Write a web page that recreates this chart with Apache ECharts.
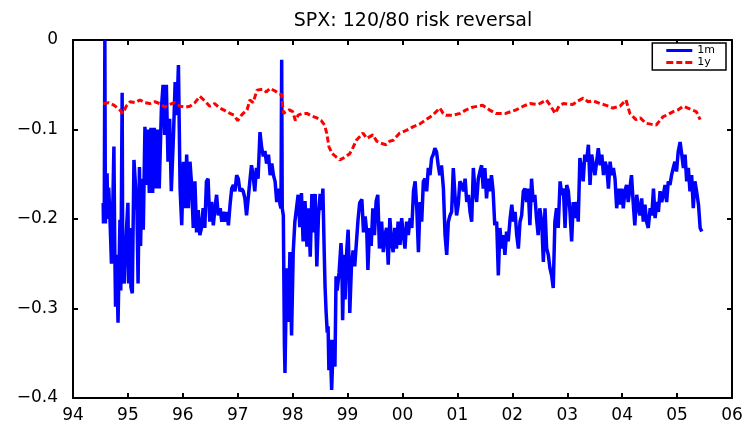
<!DOCTYPE html>
<html>
<head>
<meta charset="utf-8">
<script src="https://cdn.jsdelivr.net/npm/echarts@6/dist/echarts.min.js"></script>
<style>
  html, body { margin: 0; padding: 0; background: #fff; }
  #chart { width: 746px; height: 425px; }
</style>
</head>
<body>
<div id="chart"></div>
<script>
// SPX 120/80 risk reversal: [year (94 = 1994, 100 = 2000), value]
const TITLE = "SPX: 120/80 risk reversal";
const SERIES_NAMES = ["1m", "1y"];
const X_TICKS = [94, 95, 96, 97, 98, 99, 100, 101, 102, 103, 104, 105, 106];
const Y_TICKS = [0, -0.1, -0.2, -0.3, -0.4];

const rr1m = [
  [94.55,-0.182],[94.555,-0.205],[94.57,-0.185],[94.58,0],[94.59,-0.205],[94.605,-0.160],[94.62,-0.149],
  [94.635,-0.200],[94.65,-0.165],[94.665,-0.186],[94.68,-0.212],[94.70,-0.250],[94.72,-0.200],[94.745,-0.119],
  [94.76,-0.230],[94.775,-0.298],[94.79,-0.240],[94.80,-0.260],[94.82,-0.316],[94.84,-0.250],[94.855,-0.201],
  [94.87,-0.280],[94.895,-0.059],[94.905,-0.240],[94.92,-0.265],[94.935,-0.272],[94.96,-0.230],[94.975,-0.210],
  [95.00,-0.182],[95.015,-0.272],[95.04,-0.210],[95.055,-0.276],[95.08,-0.283],[95.11,-0.134],[95.14,-0.132],
  [95.165,-0.190],[95.185,-0.272],[95.21,-0.142],[95.23,-0.230],[95.255,-0.155],[95.28,-0.212],[95.31,-0.097],
  [95.335,-0.162],[95.36,-0.100],[95.39,-0.171],[95.42,-0.098],[95.45,-0.171],[95.48,-0.098],[95.51,-0.166],
  [95.54,-0.100],[95.57,-0.166],[95.61,-0.076],[95.64,-0.050],[95.67,-0.106],[95.70,-0.050],[95.73,-0.136],
  [95.76,-0.088],[95.79,-0.169],[95.83,-0.106],[95.86,-0.047],[95.89,-0.084],[95.92,-0.028],[95.95,-0.166],
  [95.98,-0.207],[96.01,-0.136],[96.04,-0.188],[96.07,-0.128],[96.10,-0.188],[96.13,-0.136],[96.16,-0.162],
  [96.19,-0.210],
  [96.22,-0.158],[96.25,-0.215],[96.28,-0.190],[96.31,-0.218],[96.34,-0.210],[96.37,-0.188],[96.40,-0.210],
  [96.43,-0.158],[96.46,-0.155],[96.49,-0.203],[96.525,-0.181],[96.555,-0.207],[96.585,-0.188],[96.615,-0.173],
  [96.645,-0.196],[96.68,-0.188],[96.71,-0.203],[96.74,-0.192],[96.77,-0.203],[96.80,-0.192],[96.83,-0.207],
  [96.86,-0.184],[96.89,-0.166],[96.92,-0.162],[96.95,-0.169],[96.98,-0.151],[97.01,-0.155],[97.04,-0.169],
  [97.07,-0.166],[97.10,-0.169],[97.13,-0.177],[97.16,-0.196],[97.19,-0.196],[97.22,-0.158],[97.25,-0.140],
  [97.28,-0.151],[97.31,-0.169],[97.34,-0.143],[97.37,-0.155],[97.405,-0.103],[97.435,-0.120],[97.465,-0.130],
  [97.495,-0.124],[97.525,-0.138],[97.56,-0.128],[97.59,-0.151],[97.62,-0.138],[97.65,-0.151],[97.68,-0.158],
  [97.71,-0.181],[97.74,-0.166],[97.77,-0.184],[97.787,-0.188],[97.80,-0.022],[97.81,-0.188],[97.83,-0.196],
  [97.85,-0.341],[97.86,-0.372],[97.89,-0.255],[97.92,-0.315],
  [97.95,-0.237],[97.98,-0.330],[98.01,-0.237],[98.04,-0.203],[98.07,-0.203],[98.10,-0.173],[98.13,-0.209],
  [98.16,-0.171],[98.19,-0.225],[98.225,-0.180],[98.26,-0.231],[98.29,-0.188],[98.32,-0.242],[98.35,-0.172],
  [98.375,-0.215],[98.41,-0.172],[98.44,-0.253],[98.47,-0.196],[98.50,-0.172],[98.53,-0.190],[98.55,-0.166],
  [98.575,-0.238],[98.59,-0.276],[98.61,-0.305],[98.63,-0.327],[98.645,-0.320],[98.66,-0.369],[98.68,-0.335],
  [98.71,-0.391],[98.74,-0.335],[98.77,-0.365],[98.79,-0.264],[98.81,-0.280],[98.845,-0.260],[98.88,-0.227],
  [98.895,-0.245],[98.91,-0.313],[98.935,-0.240],[98.955,-0.290],[98.985,-0.235],[99.01,-0.212],[99.025,-0.245],
  [99.04,-0.305],[99.07,-0.253],[99.10,-0.235],[99.13,-0.253],[99.16,-0.227],[99.19,-0.201],[99.22,-0.182],
  [99.26,-0.178],[99.29,-0.215],[99.32,-0.197],[99.35,-0.215],[99.37,-0.257],[99.40,-0.210],[99.43,-0.230],
  [99.46,-0.188],[99.49,-0.218],[99.52,-0.180],[99.55,-0.173],[99.58,-0.233],[99.62,-0.203],[99.65,-0.237],
  [99.68,-0.218],[99.71,-0.210],[99.74,-0.251],[99.77,-0.199],[99.80,-0.225],[99.83,-0.237],[99.86,-0.210],
  [99.89,-0.233],[99.92,-0.203],[99.955,-0.229],[99.985,-0.199],[100.015,-0.218],[100.045,-0.233],[100.075,-0.203],
  [100.105,-0.218],[100.14,-0.199],[100.17,-0.210],[100.20,-0.169],[100.23,-0.158],[100.26,-0.188],[100.29,-0.237],
  [100.32,-0.181],[100.35,-0.203],[100.38,-0.158],[100.41,-0.155],[100.44,-0.169],[100.47,-0.143],[100.50,-0.151],
  [100.53,-0.132],[100.56,-0.128],[100.59,-0.121],[100.62,-0.125],[100.65,-0.140],[100.68,-0.151],[100.71,-0.140],
  [100.745,-0.166],[100.775,-0.218],[100.805,-0.240],[100.835,-0.203],[100.865,-0.196],[100.895,-0.192],
  [100.925,-0.143],[100.955,-0.173],[100.985,-0.196],[101.015,-0.184],[101.045,-0.158],[101.08,-0.162],
  [101.11,-0.169],[101.14,-0.155],[101.17,-0.181],[101.20,-0.173],[101.23,-0.192],[101.26,-0.203],[101.29,-0.143],
  [101.32,-0.169],[101.35,-0.181],[101.38,-0.155],
  [101.41,-0.147],[101.44,-0.140],[101.47,-0.166],[101.50,-0.143],[101.53,-0.177],[101.56,-0.155],[101.59,-0.169],
  [101.62,-0.151],[101.65,-0.169],[101.68,-0.207],[101.715,-0.203],[101.745,-0.263],[101.775,-0.210],
  [101.805,-0.233],[101.835,-0.218],[101.865,-0.240],[101.895,-0.214],[101.925,-0.225],[101.96,-0.199],
  [101.99,-0.184],[102.02,-0.203],[102.05,-0.192],[102.08,-0.218],[102.11,-0.233],[102.14,-0.203],[102.17,-0.196],
  [102.20,-0.169],[102.23,-0.166],[102.26,-0.181],[102.29,-0.166],[102.32,-0.207],[102.35,-0.155],[102.38,-0.181],
  [102.41,-0.173],[102.44,-0.199],[102.47,-0.218],[102.50,-0.188],[102.535,-0.203],[102.565,-0.248],
  [102.595,-0.188],[102.625,-0.233],[102.655,-0.240],[102.685,-0.255],[102.715,-0.263],[102.745,-0.277],
  [102.775,-0.203],[102.805,-0.188],[102.835,-0.210],[102.87,-0.158],[102.90,-0.173],[102.93,-0.166],
  [102.96,-0.210],[102.99,-0.162],[103.02,-0.169],[103.05,-0.192],[103.08,-0.225],[103.11,-0.181],
  [103.14,-0.199],[103.17,-0.181],[103.20,-0.203],[103.23,-0.132],[103.26,-0.143],[103.29,-0.158],[103.32,-0.128],
  [103.35,-0.136],[103.385,-0.117],[103.415,-0.162],[103.445,-0.128],[103.475,-0.140],[103.505,-0.151],
  [103.535,-0.136],[103.565,-0.121],[103.60,-0.140],[103.63,-0.128],[103.66,-0.151],[103.69,-0.136],[103.72,-0.143],
  [103.75,-0.166],[103.78,-0.136],[103.81,-0.151],[103.84,-0.143],[103.87,-0.155],[103.90,-0.188],[103.93,-0.166],
  [103.96,-0.184],[103.99,-0.166],[104.02,-0.188],[104.05,-0.169],[104.08,-0.162],[104.11,-0.181],[104.14,-0.166],
  [104.17,-0.151],[104.20,-0.181],[104.23,-0.207],[104.265,-0.173],[104.295,-0.188],[104.325,-0.196],
  [104.355,-0.177],[104.385,-0.203],[104.415,-0.184],[104.445,-0.203],[104.475,-0.210],[104.51,-0.188],
  [104.54,-0.196],[104.57,-0.166],[104.60,-0.199],[104.63,-0.181],[104.66,-0.192],[104.69,-0.169],[104.72,-0.181],
  [104.75,-0.173],[104.78,-0.162],[104.81,-0.181],[104.84,-0.158],[104.87,-0.162],[104.90,-0.151],[104.93,-0.143],
  [104.96,-0.136],[104.99,-0.147],[105.02,-0.125],[105.055,-0.114],[105.085,-0.128],[105.115,-0.143],
  [105.145,-0.128],[105.175,-0.158],[105.205,-0.143],[105.235,-0.169],[105.265,-0.151],[105.295,-0.188],
  [105.325,-0.158],[105.355,-0.169],[105.39,-0.184],[105.42,-0.210],[105.45,-0.214]
];

const rr1y = [
  [94.55,-0.071],[94.65,-0.070],[94.75,-0.073],[94.85,-0.078],[94.91,-0.082],[94.97,-0.074],[95.04,-0.069],
  [95.13,-0.070],[95.22,-0.067],[95.31,-0.070],[95.40,-0.071],[95.49,-0.069],[95.58,-0.071],[95.67,-0.075],
  [95.76,-0.072],[95.85,-0.070],[95.95,-0.074],[96.04,-0.075],[96.13,-0.074],[96.22,-0.070],[96.31,-0.063],
  [96.40,-0.068],[96.49,-0.074],[96.58,-0.071],[96.67,-0.076],[96.77,-0.079],[96.86,-0.082],[96.93,-0.084],
  [97.00,-0.090],[97.08,-0.083],[97.17,-0.078],[97.22,-0.067],[97.28,-0.070],[97.35,-0.056],[97.45,-0.055],
  [97.52,-0.058],[97.59,-0.054],[97.68,-0.057],[97.75,-0.060],[97.80,-0.061],[97.83,-0.082],[97.88,-0.080],
  [97.94,-0.078],[98.00,-0.080],[98.05,-0.090],[98.10,-0.084],[98.18,-0.082],[98.26,-0.082],[98.35,-0.085],
  [98.44,-0.087],[98.52,-0.090],[98.58,-0.095],[98.62,-0.104],[98.66,-0.119],[98.72,-0.127],[98.78,-0.130],
  [98.86,-0.134],[98.95,-0.131],[99.04,-0.127],[99.10,-0.120],[99.16,-0.112],[99.22,-0.108],[99.28,-0.104],
  [99.35,-0.110],[99.46,-0.106],[99.53,-0.113],[99.59,-0.115],[99.70,-0.117],[99.77,-0.113],[99.83,-0.112],
  [99.95,-0.104],[100.07,-0.101],[100.19,-0.097],[100.31,-0.094],[100.43,-0.089],[100.55,-0.084],[100.68,-0.076],
  [100.74,-0.082],[100.79,-0.084],[100.92,-0.084],[101.05,-0.082],[101.16,-0.078],[101.28,-0.075],[101.46,-0.073],
  [101.58,-0.078],[101.70,-0.082],[101.88,-0.082],[102.07,-0.078],[102.20,-0.074],[102.32,-0.071],[102.47,-0.072],
  [102.62,-0.067],[102.70,-0.074],[102.78,-0.082],[102.85,-0.074],[102.93,-0.071],[103.10,-0.072],[103.20,-0.068],
  [103.29,-0.065],[103.38,-0.069],[103.47,-0.068],[103.60,-0.071],[103.71,-0.073],[103.83,-0.076],[103.96,-0.074],
  [104.07,-0.067],[104.14,-0.082],[104.25,-0.089],[104.33,-0.087],[104.43,-0.093],[104.52,-0.094],[104.62,-0.095],
  [104.74,-0.086],[104.84,-0.083],[104.93,-0.080],[105.02,-0.078],[105.11,-0.074],[105.23,-0.077],[105.35,-0.080],
  [105.42,-0.089]
];

const FONT = "DejaVu Sans, Liberation Sans, Arial, sans-serif";
const yearLabel = (v) => String(Math.round(v) % 100).padStart(2, "0");
const valLabel = (v) => (Math.abs(v) < 1e-9 ? "0" : "\u2212" + Math.abs(v).toFixed(1));

// legend glyphs: solid bar and three dashes
const ICON_SOLID = "path://M0,0H26V3H0Z";
const ICON_DASH = "path://M0,0H7V3H0ZM10,0H16V3H10ZM19,0H26V3H19Z";

const baseX = {
  type: "value",
  min: X_TICKS[0],
  max: X_TICKS[X_TICKS.length - 1],
  interval: 1,
  axisLine: { show: true, onZero: false, lineStyle: { color: "#000", width: 2 } },
  axisTick: { show: true, inside: true, length: 5, lineStyle: { color: "#000", width: 2 } },
  splitLine: { show: false },
};
const baseY = {
  type: "value",
  min: Y_TICKS[Y_TICKS.length - 1],
  max: Y_TICKS[0],
  interval: 0.1,
  axisLine: { show: true, onZero: false, lineStyle: { color: "#000", width: 2 } },
  axisTick: { show: true, inside: true, length: 5, lineStyle: { color: "#000", width: 2 } },
  splitLine: { show: false },
};

const chart = echarts.init(document.getElementById("chart"), null, { renderer: "canvas" });
chart.setOption({
  animation: false,
  backgroundColor: "#fff",
  title: {
    text: TITLE,
    left: 408,
    textAlign: "center",
    top: 7,
    textStyle: { fontFamily: FONT, fontSize: 19, fontWeight: "normal", color: "#000" },
  },
  grid: { left: 73, right: 14, top: 40, bottom: 27 },
  legend: {
    data: [
      { name: SERIES_NAMES[0], icon: ICON_SOLID },
      { name: SERIES_NAMES[1], icon: ICON_DASH },
    ],
    orient: "vertical",
    right: 20,
    top: 43,
    itemWidth: 26,
    itemHeight: 3,
    itemGap: 1,
    padding: [2, 11, 2, 14],
    backgroundColor: "#fff",
    borderColor: "#000",
    borderWidth: 1.5,
    borderRadius: 0,
    textStyle: { fontFamily: FONT, fontSize: 11, color: "#000" },
  },
  xAxis: [
    Object.assign({}, baseX, {
      position: "bottom",
      axisLabel: { formatter: yearLabel, margin: 9, fontFamily: FONT, fontSize: 17, color: "#000" },
    }),
    Object.assign({}, baseX, { position: "top", axisLabel: { show: false } }),
  ],
  yAxis: [
    Object.assign({}, baseY, {
      position: "left",
      axisLabel: { formatter: valLabel, margin: 15, fontFamily: FONT, fontSize: 17, color: "#000" },
    }),
    Object.assign({}, baseY, { position: "right", axisLabel: { show: false } }),
  ],
  series: [
    {
      name: SERIES_NAMES[0],
      type: "line",
      data: rr1m,
      showSymbol: false,
      symbol: "none",
      color: "#0000ff",
      lineStyle: { color: "#0000ff", width: 3.5 },
      z: 3,
    },
    {
      name: SERIES_NAMES[1],
      type: "line",
      data: rr1y,
      showSymbol: false,
      symbol: "none",
      color: "#ff0000",
      lineStyle: { color: "#ff0000", width: 3, type: [6, 3] },
      z: 4,
    },
  ],
});
</script>
</body>
</html>
